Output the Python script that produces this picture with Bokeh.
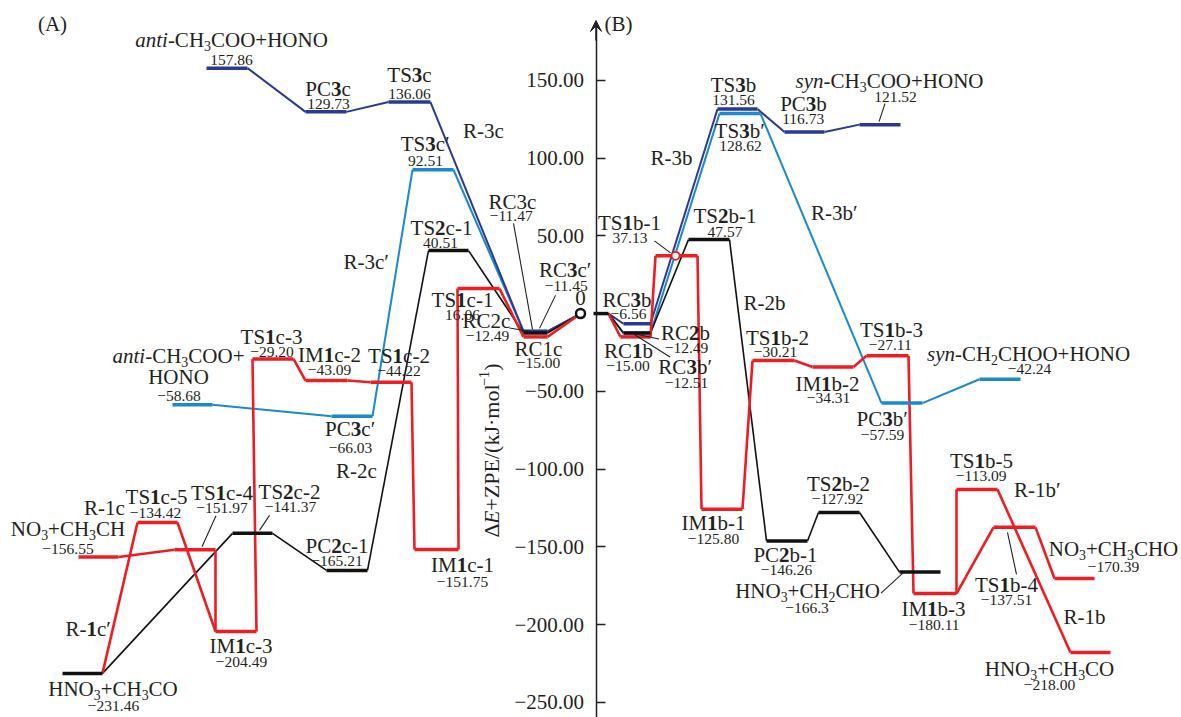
import math
from bokeh.plotting import figure
from bokeh.models import (ColumnDataSource, LinearAxis, FixedTicker, CustomJSTickFormatter,
                          Arrow, VeeHead, Range1d)
from bokeh.core.properties import value, field
from bokeh.embed import file_html
from bokeh.resources import INLINE

# ---------------- DATA: relative energies ΔE+ZPE (kJ/mol) ----------------
# markup in state names: *bold*, ~italic~, _subscript_, ^superscript^, | line break
# Panel (A): states listed left -> right (reactant "0" at the right end)
A_R3c_states = ["~anti~-CH_3_COO+HONO", "PC*3*c", "TS*3*c", "RC3c", "0"]
A_R3c_E = [157.86, 129.73, 136.06, -11.47, 0.0]
A_R3cp_states = ["~anti~-CH_3_COO+|HONO", "PC*3*c′", "TS*3*c′", "RC*3*c′", "0"]
A_R3cp_E = [-58.68, -66.03, 92.51, -11.45, 0.0]
A_R2c_states = ["HNO_3_+CH_3_CO", "TS*2*c-2", "PC*2*c-1", "TS*2*c-1", "RC2c", "0"]
A_R2c_E = [-231.46, -141.37, -165.21, 40.51, -12.49, 0.0]
A_R1c_states = ["NO_3_+CH_3_CH", "TS*1*c-4", "IM*1*c-3", "TS*1*c-3", "IM*1*c-2",
                "TS*1*c-2", "IM*1*c-1", "TS*1*c-1", "RC1c", "0"]
A_R1c_E = [-156.55, -151.97, -204.49, -29.20, -43.09, -44.22, -151.75, 16.06, -15.00, 0.0]
A_R1cp_states = ["HNO_3_+CH_3_CO", "TS*1*c-5", "IM*1*c-3"]
A_R1cp_E = [-231.46, -134.42, -204.49]
# Panel (B): states listed left -> right (reactant "0" at the left end)
B_R3b_states = ["0", "RC*3*b", "TS*3*b", "PC*3*b", "~syn~-CH_3_COO+HONO"]
B_R3b_E = [0.0, -6.56, 131.56, 116.73, 121.52]
B_R3bp_states = ["0", "RC*3*b′", "TS*3*b′", "PC*3*b′", "~syn~-CH_2_CHOO+HONO"]
B_R3bp_E = [0.0, -12.51, 128.62, -57.59, -42.24]
B_R2b_states = ["0", "RC*2*b", "TS*2*b-1", "PC*2*b-1", "TS*2*b-2", "HNO_3_+CH_2_CHO"]
B_R2b_E = [0.0, -12.49, 47.57, -146.26, -127.92, -166.3]
B_R1b_states = ["0", "RC*1*b", "TS*1*b-1", "IM*1*b-1", "TS*1*b-2", "IM*1*b-2",
                "TS*1*b-3", "IM*1*b-3", "TS*1*b-5", "HNO_3_+CH_3_CO"]
B_R1b_E = [0.0, -15.00, 37.13, -125.80, -30.21, -34.31, -27.11, -180.11, -113.09, -218.00]
B_R1bp_states = ["IM*1*b-3", "TS*1*b-4", "NO_3_+CH_3_CHO"]
B_R1bp_E = [-180.11, -137.51, -170.39]

PATH_LABELS = ["R-3c", "R-3c′", "R-2c", "R-1c", "R-*1*c′", "R-3b", "R-3b′", "R-2b", "R-1b", "R-1b′"]
Y_TICKS = [-250, -200, -150, -100, -50, 50, 100, 150]
AXIS_TITLE = "Δ~E~+ZPE/(kJ·mol^−1^)"
PANEL_TITLES = ["(A)", "(B)"]

# ---------------- STYLE / LAYOUT ----------------
FONT = "Liberation Serif"
TXT = "#231F20"
RED, NAVY, LBLUE, BLACK = "#EE1D24", "#2B3990", "#1C88D0", "#111111"
W_PX, H_PX = 1181, 717
Y0, PX = 390.8, 1.5547          # pixel row of -50 kJ/mol, pixels per kJ/mol


def E_of_px(py):
    return -50 + (Y0 - py) / PX


def px_of_E(E):
    return Y0 - PX * (E + 50)


PATHS = [  # (panel, states, energies, colour, connector width)
    ("A", A_R3cp_states, A_R3cp_E, LBLUE, 2.0),
    ("A", A_R3c_states, A_R3c_E, NAVY, 2.0),
    ("A", A_R2c_states, A_R2c_E, BLACK, 1.6),
    ("A", A_R1c_states, A_R1c_E, RED, 2.6),
    ("A", A_R1cp_states, A_R1cp_E, RED, 2.6),
    ("B", B_R3bp_states, B_R3bp_E, LBLUE, 2.0),
    ("B", B_R3b_states, B_R3b_E, NAVY, 2.0),
    ("B", B_R2b_states, B_R2b_E, BLACK, 1.6),
    ("B", B_R1b_states, B_R1b_E, RED, 2.6),
    ("B", B_R1bp_states, B_R1bp_E, RED, 2.6),
]
LEVEL_COLOR_OVERRIDE = {("A", "0"): BLACK, ("B", "0"): BLACK}

# (x_left, x_right, name_dx, name_dy, value_dx, value_dy) in px, offsets from level centre
LEVELS = {
    ("A", "~anti~-CH_3_COO+HONO"): (206, 247, 4.5, -28, 4.5, -8),
    ("A", "PC*3*c"): (305, 346, 2, -23, 2.5, -8),
    ("A", "TS*3*c"): (388, 430, 0, -27, 0, -8),
    ("A", "RC3c"): (523, 547, -23, -129, -24, -115),
    ("A", "~anti~-CH_3_COO+|HONO"): (172, 212, -14, -49, -13.5, -9),
    ("A", "PC*3*c′"): (331, 372, -1.5, 13, -1.5, 32),
    ("A", "TS*3*c′"): (412, 453, -7.5, -26, -7.5, -9),
    ("A", "RC*3*c′"): (523, 547, 30, -61, 31, -45),
    ("A", "HNO_3_+CH_3_CO"): (62, 102, 30.5, 16, 31, 33),
    ("A", "TS*2*c-2"): (232, 272, 37, -41, 38, -26),
    ("A", "PC*2*c-1"): (326, 367, -10, -24, -10, -9),
    ("A", "TS*2*c-1"): (428, 468, -7, -23, -8, -8),
    ("A", "RC2c"): (523, 547, -49, -12, -48, 3),
    ("A", "NO_3_+CH_3_CH"): (78, 118, -30.5, -28, -30.5, -8),
    ("A", "TS*1*c-5"): (137, 177, -1, -26, -2, -10),
    ("A", "TS*1*c-4"): (174, 215, 27, -57, 27, -42),
    ("A", "IM*1*c-3"): (215, 256, 5, 15, 5.5, 31),
    ("A", "TS*1*c-3"): (252, 293, -1.5, -22, -1, -7),
    ("A", "IM*1*c-2"): (305, 347, 3, -26, 3, -11),
    ("A", "TS*1*c-2"): (370, 411, 8, -26, 8, -11),
    ("A", "IM*1*c-1"): (414, 458, 26, 16, 26, 33),
    ("A", "TS*1*c-1"): (457, 499, -16, 11, -16, 26),
    ("A", "RC1c"): (523, 547, 3, 12, 3, 26),
    ("A", "0"): (580, 580, 0, -16, None, None),
    ("B", "0"): (593, 608, None, None, None, None),
    ("B", "RC*3*b"): (623, 650, -10, -24, -8.5, -10),
    ("B", "TS*3*b"): (717, 757, -4, -24, -4, -9),
    ("B", "PC*3*b"): (784, 824, -1, -28, -1, -13),
    ("B", "~syn~-CH_3_COO+HONO"): (859, 900, 9.5, -44, 15.5, -28),
    ("B", "RC*3*b′"): (623, 650, 48.5, 34, 49.5, 50),
    ("B", "TS*3*b′"): (719, 760, 0, 17, 0.5, 32),
    ("B", "PC*3*b′"): (881, 922, -19.5, 16, -19.5, 32),
    ("B", "~syn~-CH_2_CHOO+HONO"): (979, 1020, 28.5, -25, 29.5, -10),
    ("B", "RC*2*b"): (623, 650, 48.5, 0, 49.5, 15),
    ("B", "TS*2*b-1"): (688, 729, 16, -24, 16, -8),
    ("B", "PC*2*b-1"): (766, 807, -1.5, 14, -0.5, 29),
    ("B", "TS*2*b-2"): (818, 859, -0.5, -28, -1.5, -13),
    ("B", "HNO_3_+CH_2_CHO"): (899, 940, -112.5, 19, -113, 36),
    ("B", "RC*1*b"): (620, 650, -7, 14, -7.5, 29),
    ("B", "TS*1*b-1"): (655, 697, -47, -33, -46.5, -18),
    ("B", "IM*1*b-1"): (701, 742, -8.5, 14, -8.5, 30),
    ("B", "TS*1*b-2"): (752, 794, 4, -23, 2, -9),
    ("B", "IM*1*b-2"): (812, 853, -5.5, 17, -4.5, 31),
    ("B", "TS*1*b-3"): (866, 908, 4, -26, 3, -11),
    ("B", "IM*1*b-3"): (913, 956, -1.5, 15, -0.5, 31),
    ("B", "TS*1*b-5"): (956, 997, 4.5, -28, 4.5, -13),
    ("B", "HNO_3_+CH_3_CO"): (1070, 1110, -41, 17, -41, 33),
    ("B", "TS*1*b-4"): (993, 1035, -8, 58, -8, 73),
    ("B", "NO_3_+CH_3_CHO"): (1054, 1094, 39, -29, 39, -11),
}
DECIMALS = {("B", "HNO_3_+CH_2_CHO"): 1}
# leader lines: (start dx, start dy, end dx, end dy) relative to the level centre
LEADERS = {
    ("A", "RC3c"): (-22, -108, -3, -2),
    ("A", "RC*3*c′"): (20, -36, 4, -3),
    ("A", "RC2c"): (-26, -5, -2, -1),
    ("A", "TS*1*c-4"): (21, -34, 7, -3),
    ("A", "TS*2*c-2"): (17, -18, 7, -3),
    ("B", "~syn~-CH_3_COO+HONO"): (5, -21, -1, -3),
    ("B", "TS*1*b-1"): (-22, -15, -6, -3),
    ("B", "RC*2*b"): (22, 6, -2, 1),
    ("B", "RC*3*b′"): (33, 24, -5, 0),
    ("B", "HNO_3_+CH_2_CHO"): (-39, 21, -16, 0),
    ("B", "TS*1*b-4"): (2, 47, -7, 5),
}
RING_B_X = 675
PATH_LABEL_POS = [(483, 130), (366, 261), (356, 470), (104, 507), (88, 628),
                  (671, 157), (834, 212), (764, 302), (1084, 616), (1037, 489)]
PANEL_TITLE_POS = [(52, 23), (618, 23)]
FS_NAME, FS_VAL, FS_AXIS = 21, 15.5, 22

# ---------------- rich-text helpers ----------------
W_REG = {" ": .25, "(": .333, ")": .333, "+": .564, "-": .333, ".": .25, "/": .278, "·": .25,
         "′": .25, "−": .564, "Δ": .612,
         "A": .722, "B": .667, "C": .667, "D": .722, "E": .611, "H": .722, "I": .333, "J": .389,
         "M": .889, "N": .722, "O": .722, "P": .556, "R": .667, "S": .556, "T": .611, "Z": .611,
         "a": .444, "b": .5, "c": .444, "d": .5, "e": .444, "h": .5, "i": .278, "k": .5,
         "l": .278, "m": .778, "n": .5, "o": .5, "s": .389, "t": .278, "y": .5}
W_IT = {"a": .5, "n": .5, "t": .278, "i": .278, "s": .389, "y": .444, "E": .611}


def parse(markup):
    runs = []
    st = {"b": False, "i": False, "m": None, "buf": ""}

    def flush():
        if st["buf"]:
            runs.append((st["buf"], st["b"], st["i"], st["m"]))
            st["buf"] = ""
    for ch in markup:
        if ch == "*":
            flush(); st["b"] = not st["b"]
        elif ch == "~":
            flush(); st["i"] = not st["i"]
        elif ch == "_":
            flush(); st["m"] = None if st["m"] == "sub" else "sub"
        elif ch == "^":
            flush(); st["m"] = None if st["m"] == "sup" else "sup"
        else:
            st["buf"] += ch
    flush()
    return runs


def measure(markup, fs):
    out, total = [], 0.0
    for t, b, i, m in parse(markup):
        f = fs * 0.66 if m else fs
        tbl = W_IT if i else W_REG
        w = sum(tbl.get(c, W_REG.get(c, 0.5)) for c in t) * f
        style = ("bold italic" if i else "bold") if b else ("italic" if i else "normal")
        out.append((t, style, m, f, w))
        total += w
    return out, total


rows = dict(x=[], y=[], text=[], size=[], fstyle=[], angle=[], color=[])


def emit(x, py, t, f, style, angle=0.0):
    rows["x"].append(x); rows["y"].append(E_of_px(py)); rows["text"].append(t)
    rows["size"].append("%.1fpx" % f); rows["fstyle"].append(style)
    rows["angle"].append(angle); rows["color"].append(TXT)


def shift(m, fs):
    return 0.28 * fs if m == "sub" else (-0.36 * fs if m == "sup" else 0.0)


def rich(markup, cx, cy, fs):
    pieces, total = measure(markup, fs)
    x = cx - total / 2
    for t, style, m, f, w in pieces:
        emit(x, cy + shift(m, fs), t, f, style)
        x += w


def rich_vertical(markup, cx, cy, fs):
    pieces, total = measure(markup, fs)
    y = cy + total / 2
    for t, style, m, f, w in pieces:
        emit(cx + shift(m, fs), y, t, f, style, math.pi / 2)
        y -= w


def fmt(E, dec=2):
    return ("−" if E < 0 else "") + f"{abs(E):.{dec}f}"


# ---------------- figure ----------------
p = figure(width=W_PX, height=H_PX, x_range=Range1d(0, W_PX),
           y_range=Range1d(E_of_px(H_PX), E_of_px(0)),
           output_backend="svg", toolbar_location=None, x_axis_type=None, y_axis_type=None,
           min_border=0)
p.outline_line_color = None
p.background_fill_color = "white"
p.border_fill_color = "white"

# levels (first path listing a state owns its colour)
level_E, level_col = {}, {}
for panel, states, energies, col, lw in PATHS:
    for s, e in zip(states, energies):
        k = (panel, s)
        if k not in level_E:
            level_E[k] = e
            level_col[k] = LEVEL_COLOR_OVERRIDE.get(k, col)

# connectors
for panel, states, energies, col, lw in PATHS:
    c = dict(x0=[], y0=[], x1=[], y1=[])
    for a, b, ea, eb in zip(states[:-1], states[1:], energies[:-1], energies[1:]):
        c["x0"].append(LEVELS[(panel, a)][1]); c["y0"].append(ea)
        c["x1"].append(LEVELS[(panel, b)][0]); c["y1"].append(eb)
    p.segment(x0="x0", y0="y0", x1="x1", y1="y1", source=ColumnDataSource(c),
              line_color=col, line_width=lw)

# level bars
bars = dict(x0=[], x1=[], y=[], col=[])
for k, e in level_E.items():
    x0, x1 = LEVELS[k][:2]
    if x1 > x0:
        bars["x0"].append(x0); bars["x1"].append(x1); bars["y"].append(e); bars["col"].append(level_col[k])
p.segment(x0="x0", y0="y", x1="x1", y1="y", source=ColumnDataSource(bars),
          line_color="col", line_width=3.5)

# leader lines
ld = dict(x0=[], y0=[], x1=[], y1=[])
for k, (sdx, sdy, edx, edy) in LEADERS.items():
    x0, x1 = LEVELS[k][:2]
    cx, cy = (x0 + x1) / 2, px_of_E(level_E[k])
    ld["x0"].append(cx + sdx); ld["y0"].append(E_of_px(cy + sdy))
    ld["x1"].append(cx + edx); ld["y1"].append(E_of_px(cy + edy))
p.segment(x0="x0", y0="y0", x1="x1", y1="y1", source=ColumnDataSource(ld),
          line_color=TXT, line_width=1.1)

# reactant marker in (A) and crossing marker in (B)
p.scatter([LEVELS[("A", "0")][0]], [level_E[("A", "0")]], marker="circle", size=9,
          fill_color="white", line_color=BLACK, line_width=2.5)
p.scatter([RING_B_X], [level_E[("B", "TS*1*b-1")]], marker="circle", size=8,
          fill_color="white", line_color=RED, line_width=1.8)

# state labels
for k, e in level_E.items():
    x0, x1, ndx, ndy, vdx, vdy = LEVELS[k]
    if ndx is None:
        continue
    cx, cy = (x0 + x1) / 2, px_of_E(e)
    for j, line in enumerate(k[1].split("|")):
        rich(line, cx + ndx, cy + ndy + 21 * j, FS_NAME)
    if vdx is not None:
        rich(fmt(e, DECIMALS.get(k, 2)), cx + vdx, cy + vdy, FS_VAL)

for lab, (lx, ly) in zip(PATH_LABELS, PATH_LABEL_POS):
    rich(lab, lx, ly, FS_NAME)
for lab, (lx, ly) in zip(PANEL_TITLES, PANEL_TITLE_POS):
    rich(lab, lx, ly, FS_NAME)
rich_vertical(AXIS_TITLE, 491, 450, FS_AXIS)

p.text(x="x", y="y", text="text", angle="angle", source=ColumnDataSource(rows),
       text_font=value(FONT), text_font_size=field("size"), text_font_style=field("fstyle"),
       text_color=field("color"), text_align="left", text_baseline="middle")

# central energy axis
yax = LinearAxis(fixed_location=595.5, bounds=(E_of_px(H_PX), E_of_px(24)),
                 ticker=FixedTicker(ticks=Y_TICKS),
                 formatter=CustomJSTickFormatter(
                     code="return (tick < 0 ? '\u2212' : '') + Math.abs(tick).toFixed(2);"),
                 major_tick_in=9, major_tick_out=0, minor_tick_in=0, minor_tick_out=0,
                 axis_line_width=1.5, axis_line_color=TXT, major_tick_line_width=1.5,
                 major_tick_line_color=TXT, major_label_text_font=FONT,
                 major_label_text_font_size="21px", major_label_text_color=TXT,
                 major_label_standoff=12)
p.add_layout(yax, "left")
p.add_layout(Arrow(end=VeeHead(size=11, fill_color=TXT, line_color=TXT, line_width=1),
                   x_start=595.5, y_start=E_of_px(40), x_end=595.5, y_end=E_of_px(20),
                   line_width=1.5, line_color=TXT))

open("out.html", "w").write(file_html(p, INLINE))
